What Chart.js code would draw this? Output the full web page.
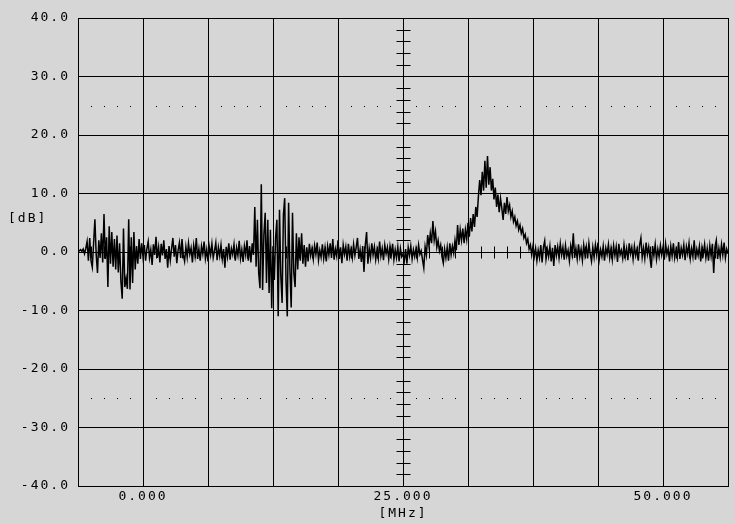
<!DOCTYPE html>
<html>
<head>
<meta charset="utf-8">
<script src="https://cdn.jsdelivr.net/npm/chart.js@4.4.1/dist/chart.umd.min.js"></script>
<style>
  body { margin: 0; background: #d6d6d6; }
  #wrap { width: 735px; height: 524px; }
</style>
</head>
<body>
<div id="wrap"><canvas id="spectrum" width="735" height="524"></canvas></div>
<script>
// sweep: start frequency and step in MHz, one level (dB) per step
var freqStart = -6.25;
var freqStep = 0.125;
var levels = [
  0.3, 0.2, 0.4, 0.1, 0.5, -0.3, 0.6, 1.8, -1.5, 2.4,
  -1.5, -2.6, 1.5, 5.6, -0.5, -3.6, 2.0, -1.0, 3.2, -1.8,
  6.5, -1.2, 2.5, -6.0, 4.4, -2.0, 3.4, -2.5, 2.2, -3.0,
  2.8, -3.5, 1.5, -5.0, -8.0, 4.0, -6.0, -4.5, -6.3, 5.6,
  -6.4, 2.5, -5.3, 3.4, -3.0, 1.0, -2.0, 2.2, -1.2, 1.5,
  -0.8, 1.2, -1.5, 0.6, 1.8, -1.0, 0.4, -2.2, 1.3, -0.5,
  2.6, -1.0, 0.8, -1.8, 1.4, -0.6, 2.0, -1.2, 0.5, -2.7,
  1.0, -1.4, 0.6, 2.4, -0.8, 1.2, -1.9, 0.3, 1.6, -1.0,
  2.2, -0.5, -1.6, 0.9, -0.9, 1.5, -0.4, 0.7, -1.8, 1.1,
  -0.6, 2.4, -1.2, 0.5, -1.5, 1.0, -0.3, 1.8, -1.1, 0.4,
  -1.6, 0.9, -0.5, 1.4, -1.0, 0.2, 1.6, -1.4, 0.8, -0.7,
  1.2, -1.2, 0.5, -2.7, 0.9, -0.8, 1.5, -1.3, 0.6, -0.4,
  1.3, -1.5, 0.7, -0.6, 1.9, -1.1, 0.4, -1.7, 1.0, -0.5,
  2.0, -1.5, 1.0, -1.8, 1.5, -0.5, 7.7, -2.5, 5.5, -3.6,
  -6.2, 11.6, -6.5, 3.0, 6.7, -5.3, 5.5, -7.0, 3.8, -9.6,
  1.0, -4.8, 2.5, 5.5, -11.0, 7.2, -4.0, -8.7, 6.3, 9.2,
  -5.0, -11.0, 8.4, -3.0, -9.5, 6.7, -3.5, -6.0, 3.2, -3.0,
  2.5, -1.5, 3.2, -2.0, 1.2, -2.5, 0.8, -1.6, 1.4, -0.6,
  0.6, -1.2, 1.1, -0.4, 1.6, -1.4, 0.3, -0.9, 1.3, -1.1,
  0.7, -1.6, 1.0, -0.5, 1.5, -1.0, 2.2, -1.3, 0.5, -0.7,
  2.0, -1.2, 0.8, -1.9, 1.2, -0.4, 0.9, -1.5, 1.4, -0.8,
  0.5, -1.0, 1.3, -0.6, 0.8, 2.4, -1.2, 0.4, -1.7, 1.0,
  -3.4, 1.2, 3.4, -2.0, 0.6, -1.0, 1.5, -0.5, 0.9, -1.3,
  0.4, -1.1, 1.8, -0.7, 0.6, -1.4, 1.2, -0.3, 0.8, -1.2,
  1.0, -0.5, 1.4, -1.3, 0.4, -1.0, 0.9, -1.6, 0.6, -0.8,
  -0.3, -1.5, 0.5, -2.0, 0.8, -0.6, 1.0, -1.2, 0.4, -0.8,
  0.6, -1.0, 1.2, -0.4, 0.2, -1.3, -2.7, 0.9, -0.5, 2.9,
  1.0, 3.2, 1.5, 5.3, 2.0, 3.5, 0.8, 2.0, 0.2, 1.2,
  -0.8, -1.9, 0.5, -1.0, 0.8, -1.5, 1.5, -0.5, 1.0, -0.2,
  2.0, 0.3, 4.6, 1.2, 3.8, 2.0, 4.0, 1.5, 3.8, 2.2,
  5.0, 2.6, 5.8, 3.5, 6.5, 4.3, 7.7, 6.0, 9.5, 12.3,
  9.7, 13.7, 10.5, 15.6, 11.0, 16.4, 11.5, 14.5, 10.5, 12.5,
  9.0, 11.0, 7.7, 9.8, 6.8, 9.2, 7.5, 5.5, 8.4, 6.5,
  9.4, 7.0, 8.0, 6.0, 7.0, 5.2, 6.0, 4.5, 5.3, 3.8,
  4.6, 3.2, 4.0, 2.4, 3.0, 1.5, 2.2, 0.5, 1.2, -0.5,
  1.0, -0.8, 0.6, -1.5, 0.3, -1.0, 1.2, -1.8, 0.8, 1.9,
  -1.2, 0.5, -0.8, 1.0, -1.6, 0.7, -2.4, 1.2, -0.6, 0.9,
  -1.0, 1.4, -0.5, 0.8, -1.3, 1.1, -0.7, 0.3, -1.5, 1.0,
  -0.4, 3.2, -1.0, 0.6, -1.2, 1.3, -0.8, 0.5, -1.4, 1.2,
  -0.6, 0.9, -1.1, 1.5, -0.3, -1.6, 0.8, -0.9, 1.2, -0.5,
  1.6, -1.2, 0.4, -0.8, 1.0, -1.5, 0.7, -0.4, 1.3, -1.0,
  0.6, -1.3, 1.1, -0.6, 0.9, -1.7, 1.4, -0.5, 0.3, -1.1,
  1.2, -0.8, 0.6, -1.4, 1.5, -0.3, 0.8, -1.2, 1.0, -0.6,
  0.5, -1.5, 1.2, 2.4, -0.9, 0.7, -1.1, 1.6, -0.4, 0.9,
  -1.0, -2.7, 1.0, -0.6, 1.3, -1.2, 0.5, -0.8, 1.1, -0.5,
  0.8, -1.3, 1.4, -0.4, 0.6, -1.6, 1.0, -0.7, 1.5, -1.0,
  0.4, -0.9, 1.7, -1.2, 0.7, -0.5, 1.2, -1.4, 0.9, -0.3,
  1.5, -1.1, 0.6, -0.8, 2.0, -1.3, 0.5, -0.6, 1.0, -1.6,
  0.8, -0.4, 1.3, -1.0, 0.6, -1.5, 1.1, -0.7, 1.4, -3.6,
  0.9, 2.0, -1.2, 0.6, -0.9, 1.3, -0.5, 1.6, -1.0, 0.5,
  -0.3
];

// axes
var xMin = -6.25, xMax = 56.25, xGrid = 6.25;
var xLabelValues = [0, 25, 50];
var yTicks = [-40, -30, -20, -10, 0, 10, 20, 30, 40];
var dottedLevels = [25, -25];
var centerFreq = 25;
var xUnit = '[MHz]';
var yUnit = '[dB]';

var FONT = { family: 'DejaVu Sans Mono', size: 13 };

var points = levels.map(function(v, i) {
  return { x: freqStart + i * freqStep, y: v };
});

// gray backdrop + wider glyph spacing like the analyzer screen
var screenPlugin = {
  id: 'screen',
  beforeDraw: function(chart) {
    var ctx = chart.ctx;
    ctx.save();
    ctx.fillStyle = '#d6d6d6';
    ctx.fillRect(0, 0, chart.width, chart.height);
    ctx.restore();
    ctx.letterSpacing = '2px';
  },
  afterDraw: function(chart) {
    var ctx = chart.ctx;
    var xs = chart.scales.x, ys = chart.scales.y;
    ctx.save();
    ctx.fillStyle = '#000';
    ctx.strokeStyle = '#000';
    ctx.lineWidth = 1;

    // dotted reference lines
    for (var d = 0; d < dottedLevels.length; d++) {
      var py = Math.round(ys.getPixelForValue(dottedLevels[d]));
      for (var f = xMin + 1.25; f < xMax; f += 1.25) {
        if (Math.abs(f / xGrid - Math.round(f / xGrid)) < 1e-6) continue;
        ctx.fillRect(Math.round(xs.getPixelForValue(f)), py, 1, 1);
      }
    }

    // center crosshair ticks
    var cx = Math.round(xs.getPixelForValue(centerFreq)) + 0.5;
    ctx.beginPath();
    for (var v = -38; v < 40; v += 2) {
      if (v % 10 === 0) continue;
      var ty = Math.round(ys.getPixelForValue(v)) + 0.5;
      ctx.moveTo(cx - 7, ty);
      ctx.lineTo(cx + 7, ty);
    }
    var cy = Math.round(ys.getPixelForValue(0)) + 0.5;
    for (var g = xMin + 1.25; g < xMax; g += 1.25) {
      if (Math.abs(g / xGrid - Math.round(g / xGrid)) < 1e-6) continue;
      var tx = Math.round(xs.getPixelForValue(g)) + 0.5;
      ctx.moveTo(tx, cy - 6);
      ctx.lineTo(tx, cy + 6);
    }
    ctx.stroke();

    // y unit label
    ctx.font = FONT.size + 'px ' + FONT.family;
    ctx.textAlign = 'left';
    ctx.textBaseline = 'middle';
    ctx.fillText(yUnit, 8, Math.round(ys.getPixelForValue(5.6)));
    ctx.restore();
  }
};

new Chart(document.getElementById('spectrum'), {
  type: 'line',
  data: {
    datasets: [{
      data: points,
      borderColor: '#000',
      borderWidth: 1.5,
      pointRadius: 0,
      tension: 0,
      fill: false
    }]
  },
  options: {
    responsive: false,
    animation: false,
    events: [],
    layout: { padding: { top: 18, right: 7, left: 0, bottom: 0 } },
    plugins: {
      legend: { display: false },
      tooltip: { enabled: false }
    },
    scales: {
      x: {
        type: 'linear',
        min: xMin,
        max: xMax,
        afterBuildTicks: function(scale) {
          var t = [];
          for (var v = xMin; v <= xMax + 1e-9; v += xGrid) t.push({ value: v });
          scale.ticks = t;
        },
        afterFit: function(scale) { scale.height = 38; },
        grid: { color: '#000', lineWidth: 1, drawTicks: false },
        border: { color: '#000', width: 1 },
        ticks: {
          color: '#000',
          font: FONT,
          padding: 3,
          maxRotation: 0,
          autoSkip: false,
          callback: function(value) {
            return xLabelValues.indexOf(value) >= 0 ? value.toFixed(3) : '';
          }
        },
        title: {
          display: true,
          text: xUnit,
          color: '#000',
          font: FONT,
          padding: { top: 0, bottom: 3 }
        }
      },
      y: {
        type: 'linear',
        min: -40,
        max: 40,
        afterBuildTicks: function(scale) {
          scale.ticks = yTicks.map(function(v) { return { value: v }; });
        },
        afterFit: function(scale) { scale.width = 78; },
        grid: { color: '#000', lineWidth: 1, drawTicks: false },
        border: { color: '#000', width: 1 },
        ticks: {
          color: '#000',
          font: FONT,
          padding: 8,
          callback: function(value) { return value.toFixed(1); }
        }
      }
    }
  },
  plugins: [screenPlugin]
});
</script>
</body>
</html>
